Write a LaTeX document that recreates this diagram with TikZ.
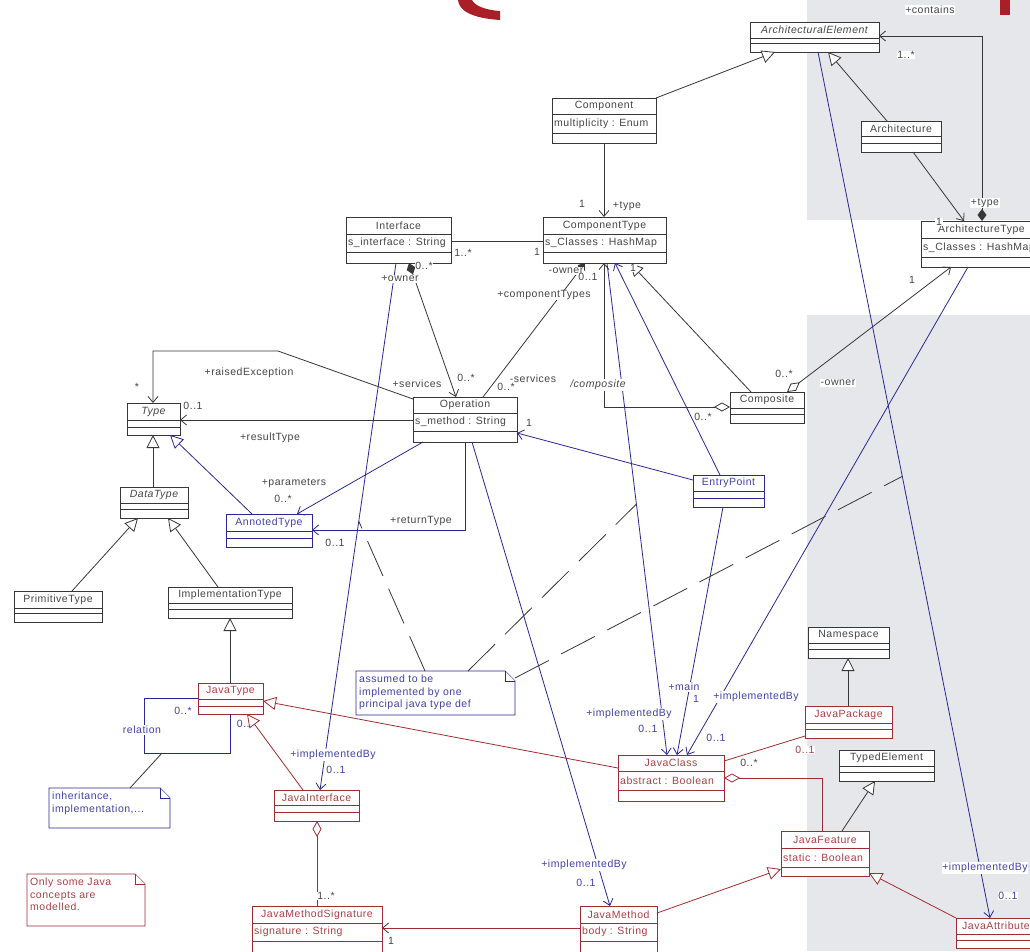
\documentclass[tikz,border=0pt]{standalone}
\usepackage{fontspec}
\usetikzlibrary{arrows.meta}
\newfontfamily\umlfont[LetterSpace=5]{Liberation Sans}
\newcommand{\umltext}{\umlfont\fontsize{10.5}{12.5}\selectfont}

\definecolor{umlgray}{RGB}{55,55,55}
\definecolor{umltext}{RGB}{70,70,70}
\definecolor{umlblue}{RGB}{40,40,150}
\definecolor{umlbluetext}{RGB}{65,65,170}
\definecolor{umlred}{RGB}{160,45,50}
\definecolor{umlredtext}{RGB}{170,65,70}
\definecolor{bggray}{RGB}{230,231,235}
\definecolor{logored}{RGB}{170,30,40}
\colorlet{clsdraw}{umlgray}
\colorlet{clstext}{umltext}

\tikzset{
  classbox/.style={draw=clsdraw, fill=white, line width=0.9pt, inner sep=0pt, outer sep=0pt},
  classline/.style={draw=clsdraw, line width=0.7pt},
  classname/.style={text=clstext, font=\umltext, inner sep=0pt},
  classattr/.style={text=clstext, font=\umltext, inner sep=2pt},
  notebox/.style={draw=clsdraw, fill=white, line width=0.8pt},
  notetext/.style={text=clstext, font=\umltext, align=left, inner sep=0pt},
  assoc/.style={draw=umlgray, line width=0.8pt},
  blueassoc/.style={draw=umlblue, line width=0.8pt},
  redassoc/.style={draw=umlred, line width=0.8pt},
  notelink/.style={draw=umlgray, line width=0.8pt, dash pattern=on 38pt off 14pt},
  lbl/.style={fill=white, inner sep=0.7pt, text=umltext, font=\umltext},
  bluelbl/.style={lbl, text=umlbluetext},
  redlbl/.style={lbl, text=umlredtext},
  uvee/.tip={Straight Barb[length=6pt,width=10pt]},
  utri/.tip={Triangle[length=13pt,width=13pt,fill=white]},
  udia/.tip={Diamond[length=16pt,width=9pt,fill=white]},
  fdia/.tip={Diamond[length=12pt,width=9pt]},
}

% class box: id, x1, y1, x2, y2, first line, second line, name, attribute
\newcommand{\umlclass}[9]{%
  \node[classbox, minimum width={#4-#2}, minimum height={#5-#3}, anchor=north west] (#1) at (#2,#3) {};
  \draw[classline] (#2,#6) -- (#4,#6) (#2,#7) -- (#4,#7);
  \node[classname] (#1-name) at ({(#2+#4)/2},{(#3+#6)/2}) {#8};
  \node[classattr, anchor=west] (#1-attr) at (#2,{(#6+#7)/2}) {#9};
}
% note with folded corner: id, x1, y1, x2, y2, text
\newcommand{\umlnote}[6]{%
  \node[inner sep=0pt, outer sep=0pt, minimum width={#4-#2}, minimum height={#5-#3}, anchor=north west] (#1) at (#2,#3) {};
  \draw[notebox] (#2,#3) -- ({#4-10},#3) -- (#4,{#3+10}) -- (#4,#5) -- (#2,#5) -- cycle;
  \draw[notebox] ({#4-10},#3) -- ({#4-10},{#3+10}) -- (#4,{#3+10});
  \node[notetext, anchor=north west] (#1-text) at ({#2+3},{#3+4}) {#6};
}

\begin{document}
\begin{tikzpicture}[x=1pt, y=-1pt]
        \useasboundingbox (0,0) rectangle (1030,951);

        % Background
        \fill[white] (0,0) rectangle (1030,951);
        \fill[bggray] (807,0) rectangle (1030,220);
        \fill[bggray] (807,315) rectangle (1030,951);
        \fill[logored] (1000,0) rectangle (1010,15);
        \fill[logored] (458,0) .. controls (459,10) and (470,18) .. (500,20) -- (500,11) .. controls (484,10) and (474,5) .. (472,0) -- cycle;

        % Architecture classes
        \umlclass{archel}{750}{22}{879}{52}{38}{43}{\itshape ArchitecturalElement}{}
        \umlclass{comp}{552}{98}{656}{143}{114}{133}{Component}{multiplicity : Enum}
        \umlclass{arch}{861}{121}{941}{152}{136}{143}{Architecture}{}
        \umlclass{comptype}{543}{217}{666}{263}{234}{252}{ComponentType}{s\_Classes : HashMap}
        \umlclass{iface}{346}{217}{451}{263}{234}{252}{Interface}{s\_interface : String}
        \umlclass{archtype}{921}{221}{1042}{267}{238}{257}{ArchitectureType}{s\_Classes : HashMap}
        \umlclass{compo}{730}{392}{804}{423}{408}{414}{Composite}{}
        \umlclass{oper}{413}{397}{517}{442}{413}{431}{Operation}{s\_method : String}
        \umlclass{type}{127}{403}{180}{435}{420}{427}{\itshape Type}{}
        \umlclass{dtype}{120}{487}{188}{518}{503}{509}{\itshape DataType}{}
        \umlclass{prim}{14}{591}{102}{622}{608}{613}{PrimitiveType}{}
        \umlclass{impl}{168}{587}{292}{618}{603}{609}{ImplementationType}{}
        \umlclass{nspace}{808}{627}{889}{658}{643}{649}{Namespace}{}
        \umlclass{typed}{839}{750}{934}{781}{766}{772}{TypedElement}{}

        % Annotated classes (blue)
        \begin{scope}
          \colorlet{clsdraw}{umlblue}\colorlet{clstext}{umlbluetext}
          \umlclass{annot}{226}{514}{312}{547}{531}{538}{AnnotedType}{}
          \umlclass{entry}{693}{475}{764}{507}{491}{498}{EntryPoint}{}
          \umlnote{note1}{49}{788}{170}{828}{inheritance,\\implementation,...}
          \umlnote{note2}{356}{671}{515}{715}{assumed to be\\implemented by one\\principal java type def}
        \end{scope}

        % Java classes (red)
        \begin{scope}
          \colorlet{clsdraw}{umlred}\colorlet{clstext}{umlredtext}
          \umlclass{jtype}{198}{683}{263}{714}{699}{706}{JavaType}{}
          \umlclass{jiface}{274}{790}{359}{821}{805}{812}{JavaInterface}{}
          \umlclass{jclass}{618}{755}{724}{801}{771}{790}{JavaClass}{abstract : Boolean}
          \umlclass{jpack}{805}{706}{892}{738}{723}{729}{JavaPackage}{}
          \umlclass{jfeat}{781}{831}{869}{876}{848}{867}{JavaFeature}{static : Boolean}
          \umlclass{jmeth}{580}{906}{657}{960}{923}{941}{JavaMethod}{body : String}
          \umlclass{jattr}{956}{918}{1036}{948}{934}{940}{JavaAttribute}{}
          \umlclass{jsig}{252}{906}{382}{960}{923}{941}{JavaMethodSignature}{signature : String}
          \umlnote{note3}{27}{874}{145}{926}{Only some Java\\concepts are\\modelled.}
        \end{scope}

        % Generalisations
        \draw[assoc, -{utri}] (comp.north east) -- ([xshift=25pt]archel.south west);
        \draw[assoc, -{utri}] ([xshift=26pt]arch.north west) -- ([xshift=78pt]archel.south west);
        \draw[assoc, -{utri}] ([xshift=33pt]dtype.north west) -- ([xshift=26pt]type.south west);
        \draw[assoc, -{utri}] ([xshift=58pt]prim.north west) -- ([xshift=18pt]dtype.south west);
        \draw[assoc, -{utri}] ([xshift=50pt]impl.north west) -- ([xshift=48pt]dtype.south west);
        \draw[assoc, -{utri}] ([xshift=32pt]jtype.north west) -- ([xshift=62pt]impl.south west);
        \draw[blueassoc, -{utri}] ([xshift=26pt]annot.north west) -- ([xshift=43pt]type.south west);
        \draw[assoc, -{utri}] ([xshift=21pt]compo.north west) -- ([xshift=87pt]comptype.south west);
        \draw[assoc, -{utri}] ([xshift=43pt]jpack.north west) -- ([xshift=40pt]nspace.south west);
        \draw[assoc, -{utri}] ([xshift=61pt]jfeat.north west) -- ([xshift=36pt]typed.south west);
        \node[bluelbl, anchor=west] (m-rel2) at (236,724) {0..*};
        \draw[redassoc, -{utri}] ([xshift=29pt]jiface.north west) -- ([xshift=49pt]jtype.south west);
        \draw[redassoc, -{utri}] ([yshift=-13pt]jclass.north west) -- ([yshift=-18pt]jtype.north east);
        \draw[redassoc, -{utri}] ([yshift=-7pt]jmeth.north east) -- ([yshift=-38pt]jfeat.north west);
        \draw[redassoc, -{utri}] (jattr.north west) -- ([yshift=3pt]jfeat.south east);

        % Associations
        \draw[assoc, {fdia}-{uvee}] ([xshift=61pt]archtype.north west) |- ([yshift=-14pt]archel.north east);
        \draw[assoc, -{uvee}] ([xshift=52pt]arch.south west) -- ([xshift=43pt]archtype.north west);
        \draw[assoc, -{uvee}] (comp.south) -- (comp.south |- comptype.north);
        \draw[assoc] ([yshift=-24pt]iface.north east) -- ([yshift=-24pt]comptype.north west);
        \draw[assoc, {fdia}-{uvee}] ([xshift=63pt]iface.south west) -- ([xshift=43pt]oper.north west);
        \draw[assoc, -{fdia}] ([xshift=70pt]oper.north west) -- ([xshift=42pt]comptype.south west);
        \draw[assoc, {udia}-{uvee}] ([yshift=-15pt]compo.north west) -| ([xshift=61pt]comptype.south west);
        \draw[assoc, {udia}-{uvee}] ([xshift=57pt]compo.north west) -- ([xshift=30pt]archtype.south west);
        \draw[assoc, -{uvee}] ([yshift=-23pt]oper.north west) -- ([yshift=-17pt]type.north east);
        \draw[assoc, -{uvee}] ([yshift=-2pt]oper.north west) -- (278,351) -| ([xshift=26pt]type.north west);

        % Implementation links (blue)
        \draw[blueassoc, -{uvee}] ([xshift=68pt]archel.south west) -- coordinate[pos=0.49] (ae-mid) ([xshift=34pt]jattr.north west);
        \draw[blueassoc, -{uvee}] ([xshift=50pt]iface.south west) -- coordinate[pos=0.49] (if-mid) ([xshift=46pt]jiface.north west);
        \draw[blueassoc, -{uvee}] ([xshift=64pt]comptype.south west) -- coordinate[pos=0.49] (ct-mid) ([xshift=49pt]jclass.north west);
        \draw[blueassoc, -{uvee}] ([xshift=27pt]entry.north west) -- ([xshift=72pt]comptype.south west);
        \draw[blueassoc, -{uvee}] ([yshift=-5pt]entry.north west) -- ([yshift=-36pt]oper.north east);
        \draw[blueassoc, -{uvee}] ([xshift=30pt]entry.south west) -- ([xshift=59pt]jclass.north west);
        \draw[blueassoc, -{uvee}] ([xshift=47pt]archtype.south west) -- ([xshift=69pt]jclass.north west);
        \draw[blueassoc, -{uvee}] ([xshift=10pt]oper.south west) -- ([xshift=71pt]annot.north west);
        \draw[blueassoc, -{uvee}] ([xshift=52pt]oper.south west) |- ([yshift=-16pt]annot.north east);
        \draw[blueassoc, -{uvee}] ([xshift=59pt]oper.south west) -- ([xshift=30pt]jmeth.north west);
        \draw[blueassoc] ([yshift=-15pt]jtype.north west) -- (144,698) -- (144,753) -- coordinate[pos=0.21] (rel-mid) (230,753) -- ([xshift=32pt]jtype.south west);
        \draw[assoc] (rel-mid) -- ([xshift=81pt]note1.north west);

        % Java links (red)
        \draw[redassoc, {udia}-] ([xshift=43pt]jiface.south west) -- ([xshift=65pt]jsig.north west);
        \draw[redassoc, -{Straight Barb[length=6pt,width=10pt,color=umlgray]}] ([yshift=-22pt]jmeth.north west) -- ([yshift=-22pt]jsig.north east);
        \draw[redassoc, {udia}-] ([yshift=-23pt]jclass.north east) -| ([xshift=41pt]jfeat.north west);
        \draw[redassoc] ([yshift=-6pt]jclass.north east) -- ([yshift=-30pt]jpack.north west);

        % Note links
        \draw[notelink] ([xshift=69pt]note2.north west) -- (if-mid);
        \draw[notelink] ([xshift=112pt]note2.north west) -- (ct-mid);
        \draw[notelink] ([yshift=-7pt]note2.north east) -- (ae-mid);

        % Role names and multiplicities
        \node[lbl] (m-contains) at (930,10) {+contains};
        \node[lbl] (m-contains1) at (906,55) {1..*};
        \node[lbl] (m-atype) at (985,203) {+type};
        \node[lbl] (m-atype1) at (939,222) {1};
        \node[lbl] (m-ctype1) at (582,204) {1};
        \node[lbl] (m-ctype) at (627,206) {+type};
        \node[lbl] (m-if1) at (463,253) {1..*};
        \node[lbl] (m-if2) at (537,252) {1};
        \node[lbl] (m-own1) at (424,266) {0..*};
        \node[lbl] (m-own2) at (400,279) {+owner};
        \node[lbl] (m-cown1) at (566,271) {-owner};
        \node[lbl] (m-cown2) at (588,277) {0..1};
        \node[lbl] (m-ctypes) at (544,295) {+componentTypes};
        \node[lbl] (m-serv1) at (417,384) {+services};
        \node[lbl] (m-serv2) at (466,378) {0..*};
        \node[lbl] (m-serv3) at (533,379) {-services};
        \node[lbl] (m-serv4) at (506,387) {0..*};
        \node[lbl, font=\umltext\itshape] (m-compo) at (598,385) {/composite};
        \node[lbl] (m-compo1) at (703,417) {0..*};
        \node[lbl] (m-gen1) at (633,268) {1};
        \node[lbl] (m-aown1) at (784,374) {0..*};
        \node[lbl] (m-aown2) at (912,280) {1};
        \node[lbl] (m-aown3) at (838,383) {-owner};
        \node[lbl] (m-raise1) at (137,387) {*};
        \node[lbl] (m-raise2) at (249,373) {+raisedException};
        \node[lbl] (m-res1) at (193,406) {0..1};
        \node[lbl] (m-res2) at (270,438) {+resultType};
        \node[lbl] (m-entry1) at (529,423) {1};
        \node[lbl] (m-par1) at (294,483) {+parameters};
        \node[lbl] (m-par2) at (283,499) {0..*};
        \node[lbl] (m-ret1) at (421,521) {+returnType};
        \node[lbl] (m-ret2) at (335,543) {0..1};
        \node[lbl] (m-pack1) at (749,763) {0..*};
        \node[redlbl] (m-pack2) at (805,750) {0..1};
        \node[lbl] (m-sig1) at (326,896) {1..*};
        \node[lbl] (m-sig2) at (391,941) {1};
        \node[bluelbl] (m-impl1) at (985,868) {+implementedBy};
        \node[bluelbl] (m-impl2) at (1008,896) {0..1};
        \node[bluelbl] (m-impl3) at (333,755) {+implementedBy};
        \node[bluelbl] (m-impl4) at (336,770) {0..1};
        \node[bluelbl] (m-impl5) at (629,714) {+implementedBy};
        \node[bluelbl] (m-impl6) at (648,729) {0..1};
        \node[bluelbl] (m-main1) at (684,687) {+main};
        \node[bluelbl] (m-main2) at (696,699) {1};
        \node[bluelbl] (m-impl7) at (756,697) {+implementedBy};
        \node[bluelbl] (m-impl8) at (716,738) {0..1};
        \node[bluelbl] (m-impl9) at (584,865) {+implementedBy};
        \node[bluelbl] (m-impl10) at (586,883) {0..1};
        \node[bluelbl] (m-rel1) at (183,711) {0..*};
        \node[bluelbl] (m-rel) at (142,730) {relation};
      \end{tikzpicture}
\end{document}
